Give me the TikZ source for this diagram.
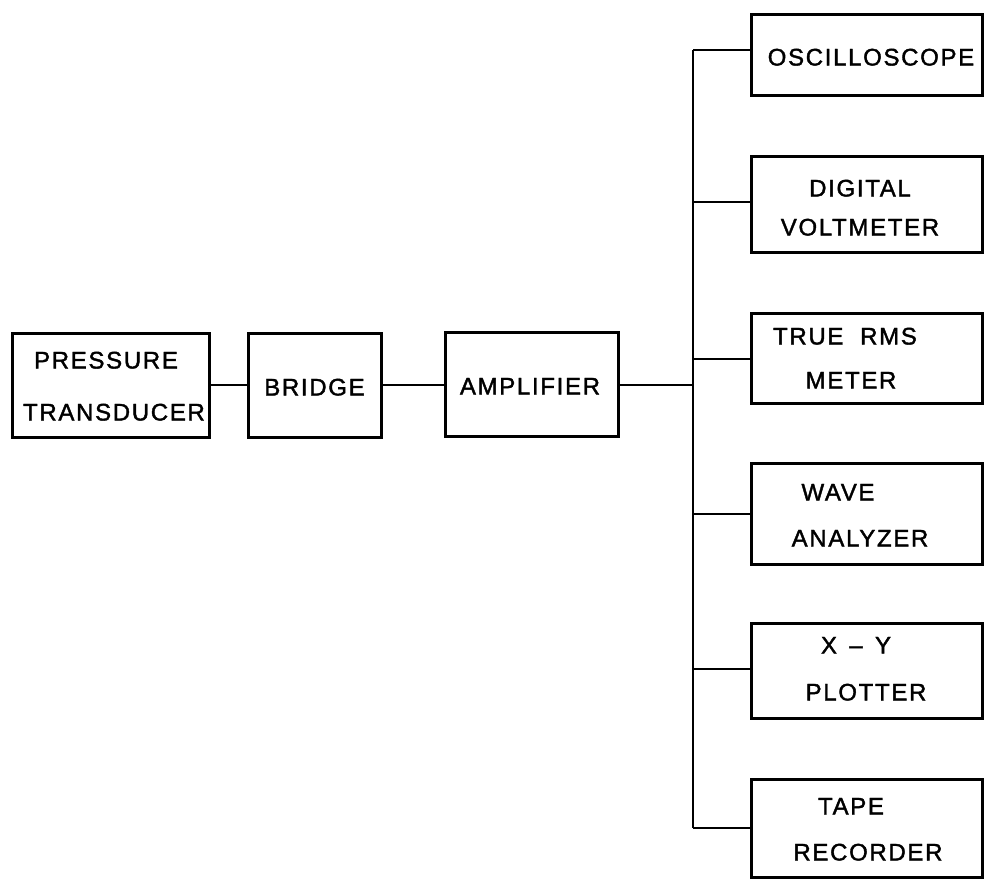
\documentclass[tikz,border=0pt]{standalone}
\usepackage{fontspec}
\setmainfont{Liberation Sans}[LetterSpace=7,FakeBold=1.6]
\begin{document}
\begin{tikzpicture}[x=1pt,y=-1pt,
  box/.style={draw,line width=3pt,inner sep=0pt,outer sep=0pt,rectangle},
  lbl/.style={inner sep=0pt,text height=17pt,text depth=0pt,font=\fontsize{24}{26}\selectfont},
  wire/.style={line width=2.3pt}]
\useasboundingbox (0,0) rectangle (984,878);
\clip (0,0) rectangle (984,878);
% left chain
\node[box,minimum width=197pt,minimum height=104pt] (pt) at (110.5,385) {};
\node[box,minimum width=133pt,minimum height=104pt] (br) at (314.5,385) {};
\node[box,minimum width=173pt,minimum height=104pt] (amp) at (531.5,384) {};
\node[lbl] (ptA) at (106,360) {PRESSURE};
\node[lbl] (ptB) at (114,412) {TRANSDUCER};
\node[lbl] (brA) at (314.5,387) {BRIDGE};
\node[lbl] (ampA) at (530,386) {AMPLIFIER};
% right boxes
\node[box,minimum width=231pt,minimum height=81pt] (osc) at (866.5,54.5) {};
\node[box,minimum width=231pt,minimum height=96pt] (dv) at (866.5,204) {};
\node[box,minimum width=231pt,minimum height=90pt] (rms) at (866.5,358) {};
\node[box,minimum width=231pt,minimum height=101pt] (wave) at (866.5,513.5) {};
\node[box,minimum width=231pt,minimum height=95pt] (xy) at (866.5,670.5) {};
\node[box,minimum width=231pt,minimum height=98pt] (tape) at (866.5,828) {};
\node[lbl] (oscA) at (871,57) {OSCILLOSCOPE};
\node[lbl] (dvA) at (860,188) {DIGITAL};
\node[lbl] (dvB) at (860,227) {VOLTMETER};
\node[lbl] (rmsA) at (845,336) {TRUE\ \ RMS};
\node[lbl] (rmsB) at (851,380) {METER};
\node[lbl] (waveA) at (838,492) {WAVE};
\node[lbl] (waveB) at (860,538) {ANALYZER};
\node[lbl] (xyA) at (856,645) {X \,--\, Y};
\node[lbl] (xyB) at (866,692) {PLOTTER};
\node[lbl] (tapeA) at (851,806) {TAPE};
\node[lbl] (tapeB) at (868,852) {RECORDER};
% bus junctions
\coordinate (j1) at (693,50);
\coordinate (j2) at (693,202);
\coordinate (ja) at (693,385);
\coordinate (j3) at (693,359);
\coordinate (j4) at (693,514);
\coordinate (j5) at (693,669);
\coordinate (j6) at (693,828);
% connectors
\draw[wire] (pt.east) -- (br.west);
\draw[wire] (br.east) -- (amp.west |- br.east);
\draw[wire] (amp.east |- ja) -- (ja);
\draw[wire] (j1) -- (j6);
\draw[wire] (j1) -- (j1 -| osc.west);
\draw[wire] (j2) -- (j2 -| dv.west);
\draw[wire] (j3) -- (j3 -| rms.west);
\draw[wire] (j4) -- (j4 -| wave.west);
\draw[wire] (j5) -- (j5 -| xy.west);
\draw[wire] (j6) -- (j6 -| tape.west);
\end{tikzpicture}
\end{document}
